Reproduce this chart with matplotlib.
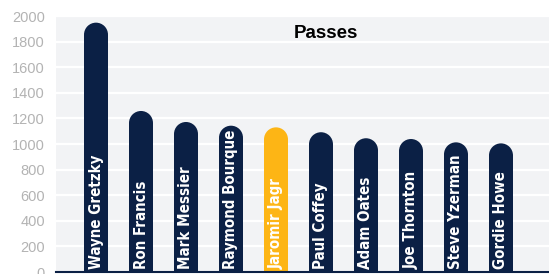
import matplotlib
matplotlib.use("Agg")
import matplotlib.pyplot as plt
from matplotlib.patches import Ellipse
import numpy as np

# Career assists ("Passes")
players = ['Wayne Gretzky', 'Ron Francis', 'Mark Messier', 'Raymond Bourque',
           'Jaromir Jagr', 'Paul Coffey', 'Adam Oates', 'Joe Thornton',
           'Steve Yzerman', 'Gordie Howe']
passes = [1948, 1258, 1172, 1143, 1130, 1092, 1045, 1039, 1013, 1005]
highlight = 'Jaromir Jagr'
y_ticks = [0, 200, 400, 600, 800, 1000, 1200, 1400, 1600, 1800, 2000]

NAVY = '#0b2045'
GOLD = '#fdb515'

W, H = 549, 274
fig = plt.figure(figsize=(W / 100, H / 100), dpi=100)
ax = fig.add_axes([56 / W, 2 / H, (W - 56) / W, (272 - 16) / H])
ax.set_facecolor('#f2f3f5')

x = np.arange(len(players))
ax.set_xlim(-0.889, 10.067)
ax.set_ylim(0, 2000)

# white gridlines
ax.set_yticks(y_ticks)
ax.yaxis.grid(True, color='white', linewidth=1.6)
ax.set_axisbelow(True)
ax.set_xticks([])
ax.tick_params(axis='y', length=0, pad=8, labelsize=10.5, labelcolor='#b3b3b3')
for lab in ax.get_yticklabels():
    lab.set_family('Liberation Sans')

for s in ['top', 'right', 'left']:
    ax.spines[s].set_visible(False)
ax.spines['bottom'].set_color(NAVY)
ax.spines['bottom'].set_linewidth(1.5)

bar_w = 0.533
colors = [GOLD if p == highlight else NAVY for p in players]

# radius of rounded top in data units (keeps the cap circular)
bb = ax.get_window_extent()
px_per_x = bb.width / (ax.get_xlim()[1] - ax.get_xlim()[0])
px_per_y = bb.height / (ax.get_ylim()[1] - ax.get_ylim()[0])
r_y = (bar_w / 2) * px_per_x / px_per_y

vals = np.array(passes, dtype=float)
ax.bar(x, vals - r_y, width=bar_w, color=colors, zorder=2)
for xi, v, c in zip(x, vals, colors):
    ax.add_patch(Ellipse((xi, v - r_y), bar_w, 2 * r_y, color=c, zorder=2,
                         linewidth=0))

for xi, name in zip(x, players):
    ax.text(xi, 20, name, rotation=90, ha='center', va='bottom', color='white',
            fontsize=10.8, fontweight='bold', fontstretch='condensed',
            family='DejaVu Sans', zorder=3)

fig.text(326 / W, 1 - 33 / H, 'Passes', ha='center', va='center',
         fontsize=13.5, fontweight='bold', color='black', family='Liberation Sans')

fig.savefig('out.png', dpi=100)
